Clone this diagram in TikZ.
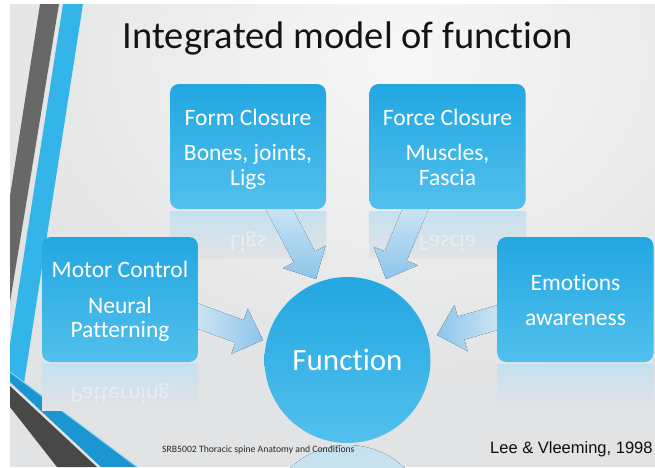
\documentclass[tikz,border=0pt]{standalone}
\usepackage{fontspec}
\setmainfont{Carlito}[Ligatures=NoCommon]
\newfontfamily\arialf{Liberation Sans}
\usepackage{graphicx}
\usetikzlibrary{calc}
\definecolor{bgc}{RGB}{226,227,228}
\definecolor{bgl}{RGB}{247,247,247}
\definecolor{sgray}{RGB}{104,104,104}
\definecolor{sblue}{RGB}{52,181,234}
\definecolor{bblue}{RGB}{28,150,208}
\definecolor{dgray}{RGB}{72,72,72}
\definecolor{boxtop}{RGB}{34,167,225}
\definecolor{boxbot}{RGB}{82,192,237}
\definecolor{refl}{RGB}{196,225,240}
\definecolor{arr}{RGB}{140,197,235}
\definecolor{arrpale}{RGB}{212,232,244}
\tikzset{
  bluebox/.style={rounded corners=9pt, top color=boxtop, bottom color=boxbot, draw=none,
     minimum width=156pt, minimum height=125pt, inner sep=0pt},
  boxtxt/.style={text=white, font=\fontsize{23.5}{28}\selectfont, anchor=base, inner sep=0pt},
  refltxt/.style={text=white, opacity=0.4, font=\fontsize{23.5}{28}\selectfont, anchor=base, inner sep=0pt},
  reflbox/.style={top color=refl, bottom color=bgc, draw=none},
  arrV/.style={top color=arrpale, bottom color=arr},
  arrR/.style={left color=arrpale, right color=arr},
  arrL/.style={left color=arr, right color=arrpale},
}
\newcommand\blockarr[3]{%
  \path ($(#2)!25pt!(#1)$) coordinate (hb);
  \fill[#3] ($(#1)!12pt!90:(#2)$) -- ($(hb)!12pt!-90:(#1)$) -- ($(hb)!24pt!-90:(#1)$) -- (#2)
     -- ($(hb)!24pt!90:(#1)$) -- ($(hb)!12pt!90:(#1)$) -- ($(#1)!12pt!-90:(#2)$) -- cycle;
}
\begin{document}
\begin{tikzpicture}[x=1pt,y=1pt]
\useasboundingbox (0,0) rectangle (655,-467);
\clip (0,0) rectangle (655,-467);
\fill[white] (0,0) rectangle (655,-467);
% background
\begin{scope}
  \clip (10,-4) rectangle (655,-467);
  \fill[bgc] (10,-4) rectangle (655,-467);
  \shade[inner color=bgl, outer color=bgc] (400,-60) ellipse (430 and 330);
\end{scope}
% left decoration
\fill[sgray] (40,-4) -- (59,-4) -- (10,-302) -- (10,-196) -- cycle;
\fill[sblue] (63,-4) -- (83,-4) -- (24,-383) -- (10,-373) -- (10,-344) -- cycle;
\fill[bblue] (10,-372) -- (137,-467) -- (101,-467) -- (10,-382) -- cycle;
\draw[sblue!60!white, line width=1pt] (10,-372) -- (137,-467);
\fill[dgray] (10,-386) -- (97,-467) -- (57,-467) -- (10,-407) -- cycle;
% reflections
\fill[reflbox] (170,-211) rectangle (326,-258);
\fill[reflbox] (369,-211) rectangle (526,-258);
\fill[reflbox] (42,-364) rectangle (198,-410);
\fill[reflbox] (497,-364) rectangle (654,-410);
\node[refltxt] (formR) at (248,-235) {\scalebox{1}[-1]{Ligs}};
\node[refltxt] (forceR) at (447.5,-235) {\scalebox{1}[-1]{Fascia}};
\node[refltxt] (motorR) at (120,-387) {\scalebox{1}[-1]{Patterning}};
\begin{scope}
  \clip (250,-445) rectangle (450,-467);
  \fill[reflbox] (347.5,-528) circle (83);
\end{scope}
% named anchor points for the block arrows
\coordinate (fa) at (276,-203);
\coordinate (ft) at (316,-279);
\coordinate (ca) at (418,-203);
\coordinate (ct) at (386,-279);
\coordinate (ma) at (192,-314);
\coordinate (mt) at (263,-340);
\coordinate (ea) at (503,-316);
\coordinate (et) at (437,-335);
\blockarr{fa}{ft}{arrV}
\blockarr{ca}{ct}{arrV}
\blockarr{ma}{mt}{arrR}
\blockarr{ea}{et}{arrL}
% boxes
\node[bluebox] (form) at (248,-146.5) {};
\node[bluebox] (force) at (447.5,-146.5) {};
\node[bluebox] (motor) at (120,-299.5) {};
\node[bluebox] (emo) at (575.5,-299.5) {};
\node[circle, minimum size=166pt, inner sep=0pt, top color=boxtop, bottom color=boxbot] (func) at (347.5,-360) {};
% texts
\node[boxtxt] (f1) at (248,-125) {Form Closure};
\node[boxtxt] (f2) at (248,-160) {Bones, joints,};
\node[boxtxt] (f3) at (248,-185) {Ligs};
\node[boxtxt] (c1) at (447.5,-125) {Force Closure};
\node[boxtxt] (c2) at (447.5,-160) {Muscles,};
\node[boxtxt] (c3) at (447.5,-185) {Fascia};
\node[boxtxt] (m1) at (120,-277) {Motor Control};
\node[boxtxt] (m2) at (120,-313) {Neural};
\node[boxtxt] (m3) at (120,-337) {Patterning};
\node[boxtxt] (e1) at (575.5,-290) {Emotions};
\node[boxtxt] (e2) at (575.5,-325) {awareness};
\node[boxtxt, font=\fontsize{31}{36}\selectfont] (ftxt) at (347.5,-370) {Function};
% title and footer
\node[anchor=base, inner sep=0pt, text={rgb,255:red,20;green,20;blue,20}, font=\fontsize{38.5}{44}\selectfont] (title) at (348,-48) {Integrated model of function};
\node[anchor=base west, inner sep=0pt, text={rgb,255:red,40;green,40;blue,40}, font=\fontsize{9.7}{11}\selectfont] (foot) at (162,-452) {SRB5002 Thoracic spine Anatomy and Conditions};
\node[anchor=base west, inner sep=0pt, text={rgb,255:red,15;green,15;blue,15}, font=\arialf\fontsize{16.5}{20}\selectfont] (cite) at (490,-453) {Lee \& Vleeming, 1998};
\end{tikzpicture}
\end{document}
